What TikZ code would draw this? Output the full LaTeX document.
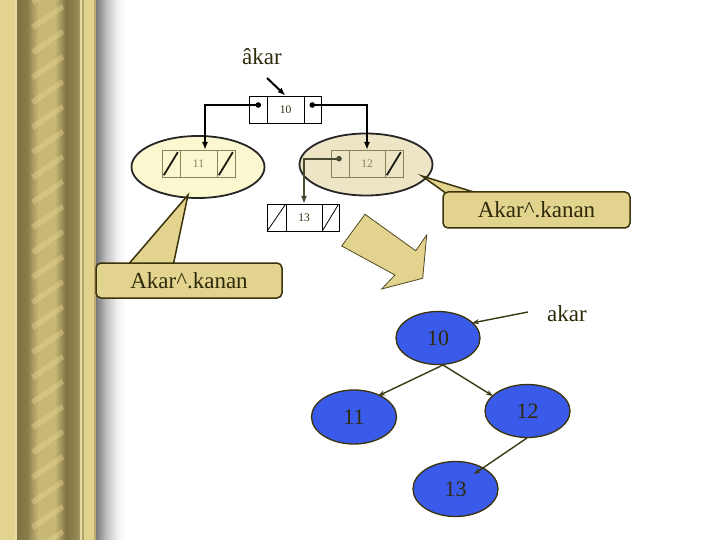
\documentclass[tikz,border=0pt]{standalone}
\usepackage{fontspec}
\setmainfont{Liberation Serif}
\usetikzlibrary{shapes.geometric,arrows.meta,calc}
\definecolor{gold}{HTML}{E2D38E}
\definecolor{barDark}{HTML}{807343}
\definecolor{barMid}{HTML}{C8B877}
\definecolor{txt}{HTML}{2E2A0A}
\definecolor{olive}{HTML}{85835A}
\definecolor{paleY}{HTML}{FBF8CF}
\definecolor{tan}{HTML}{EEE5C6}
\definecolor{callout}{HTML}{E2D38E}
\definecolor{callline}{HTML}{3A3208}
\definecolor{treeblue}{HTML}{3A5BEA}
\definecolor{edge}{HTML}{3A3A12}
\pgfdeclarehorizontalshading{ropeshade}{100bp}{color(0bp)=(barDark); color(25bp)=(barDark); color(33bp)=(barDark!90!gold); color(42bp)=(barMid); color(55bp)=(barMid); color(64bp)=(barDark); color(72bp)=(barDark!80!gold); color(75bp)=(barDark!60!gold); color(100bp)=(barDark!60!gold)}
\pgfdeclarehorizontalshading{sideshadow}{100bp}{color(0bp)=(black!52); color(25bp)=(black!52); color(42bp)=(black!25); color(60bp)=(black!6); color(75bp)=(white); color(100bp)=(white)}
\tikzset{
  cell/.style={draw, minimum height=27pt, inner sep=0pt, font=\fontsize{11.5}{12}\selectfont},
  ocell/.style={cell, draw=olive, text=olive},
  bcell/.style={cell, draw=black, text=txt},
  ptr/.style={black, line width=1.8pt, -{Latex[length=8pt,width=6pt]}},
  optr/.style={olive!55!black, line width=1.8pt, -{Latex[length=8pt,width=6pt]}},
  slashk/.style={line width=1.8pt, black!80!olive},
  calbox/.style={draw=callline, line width=1.5pt, fill=callout, rounded corners=5pt, text=txt, font=\fontsize{23}{24}\selectfont, inner sep=0pt},
  caltail/.style={draw=callline, line width=1.5pt, fill=callout, line join=miter},
  tnode/.style={ellipse, draw=callline, line width=1.3pt, fill=treeblue, text=txt, inner sep=0pt, font=\fontsize{22}{23}\selectfont},
  tedge/.style={edge, line width=1.4pt, -{Stealth[length=7pt,width=5pt]}},
  lbl/.style={text=txt, font=\fontsize{23}{24}\selectfont, inner sep=0pt}
}
\begin{document}
\begin{tikzpicture}[x=1pt,y=-1pt]
\useasboundingbox (0,0) rectangle (720,540);
\fill[white] (0,0) rectangle (720,540);
% decorative bar
\fill[gold] (0,0) rectangle (96,540);
\shade[shading=ropeshade] (17,0) rectangle (80,540);
\begin{scope}
\clip (30,0) rectangle (66,540);
\foreach \yy in {0,25,...,575}
  \fill[gold, opacity=0.45] (31,\yy) -- (62,\yy-21) -- (64,\yy-16) -- (34,\yy+5) -- cycle;
\end{scope}
\fill[gold!75!white] (15,0) rectangle (17,540);
\fill[gold!80!white] (80,0) rectangle (82,540);
\fill[barDark!50!gold] (82,0) rectangle (83.5,540);
\fill[barDark!40!gold] (94,0) rectangle (96,540);
\shade[shading=sideshadow] (96,0) rectangle (126,540);

% record 10
\node[bcell, minimum width=18pt] (r10l) at (258.3,109.3) {};
\node[bcell, minimum width=36.4pt] (r10m) at (285.5,109.3) {10};
\node[bcell, minimum width=17.6pt] (r10r) at (312.5,109.3) {};
\fill (258.3,105) circle (2.8pt) coordinate (d10l);
\fill (312.3,105) circle (2.8pt) coordinate (d10r);
% root label
\node[lbl] (akar1) at (262,57) {âkar};
\coordinate (a1s) at (267,78);
\draw[ptr, line width=2pt] (a1s) -- (r10m.north);

% left ellipse with record 11
\node[ellipse, draw=black!85, line width=1.8pt, fill=paleY, minimum width=133pt, minimum height=62pt] (e11) at (198,167) {};
\node[ocell, minimum width=18pt] (r11l) at (171,163.5) {};
\node[ocell, minimum width=37pt] (r11m) at (198.5,163.5) {11};
\node[ocell, minimum width=18pt] (r11r) at (226,163.5) {};
% right ellipse with record 12
\node[ellipse, draw=black!85, line width=1.8pt, fill=tan, minimum width=133pt, minimum height=62pt] (e12) at (366,164.5) {};
\node[ocell, minimum width=18pt] (r12l) at (340,163.5) {};
\node[ocell, minimum width=36pt] (r12m) at (367,163.5) {12};
\node[ocell, minimum width=18pt] (r12r) at (394,163.5) {};
\fill[olive!55!black] (339,158.7) circle (2.8pt) coordinate (d12l);

% record 13
\node[bcell, minimum width=19pt] (r13l) at (276.5,217.5) {};
\node[bcell, minimum width=36pt] (r13m) at (304,217.5) {13};
\node[bcell, minimum width=17pt] (r13r) at (330.5,217.5) {};
\draw[black, line width=0.8pt] ($(r13l.south west)+(1,-1)$) -- ($(r13l.north east)+(-1,1)$);
\draw[black, line width=0.8pt] ($(r13r.south west)+(1,-1)$) -- ($(r13r.north east)+(-1,1)$);

% pointers
\coordinate (t11) at (205,150);
\coordinate (t12) at (367,150);
\coordinate (t13) at (304,204);
\draw[ptr] (d10l) -| (t11);
\draw[ptr] (d10r) -| (t12);
\draw[optr] (d12l) -| (t13);
\draw[slashk] (r11l.south west) ++(2,-2) -- ++(14,-23);
\draw[slashk] (r11r.south west) ++(2,-2) -- ++(14,-23);
\draw[slashk] (r12r.south west) ++(2,-2) -- ++(14,-23);

% callouts
\coordinate (tipR) at (422,176);
\draw[caltail] (tipR) -- (447,194) -- (480,194) -- cycle;
\node[calbox, minimum width=187pt, minimum height=36pt] (cR) at (536.5,210) {Akar\textasciicircum.kanan};
\coordinate (tipL) at (188,195);
\draw[caltail] (tipL) -- (127,266) -- (173,266) -- cycle;
\node[calbox, minimum width=186pt, minimum height=35pt] (cL) at (189,280.5) {Akar\textasciicircum.kanan};

% big block arrow
\draw[callline!70!olive, line width=0.8pt, fill=callout, line join=miter]
  (341.7,246) -- (365,214.3) -- (415.7,250.7) -- (426.7,235) -- (422.7,278.3) -- (381.7,289) -- (395,275) -- cycle;

% binary tree
\node[tnode, minimum width=84pt, minimum height=53pt] (n10) at (438,338) {10};
\node[tnode, minimum width=85pt, minimum height=54pt] (n11) at (354,417) {11};
\node[tnode, minimum width=85pt, minimum height=53pt] (n12) at (527.5,411) {12};
\node[tnode, minimum width=85pt, minimum height=55pt] (n13) at (455.5,489) {13};
\node[lbl] (akar2) at (567,314) {akar};
\coordinate (a2s) at (528,312);
\draw[tedge] (a2s) -- (472,323);
\coordinate (b10) at (443,365);
\draw[tedge] (b10) -- (378,396);
\draw[tedge] (b10) -- (493,396);
\coordinate (b12) at (527,438);
\draw[tedge] (b12) -- (474,474);
\end{tikzpicture}
\end{document}
